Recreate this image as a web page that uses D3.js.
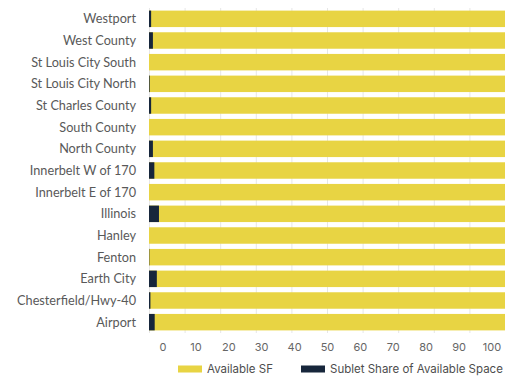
<!DOCTYPE html>
<html>
<head>
<meta charset="utf-8">
<script src="https://cdn.jsdelivr.net/npm/d3@7"></script>
<style>
  body { margin: 0; background: #fff; }
  svg { display: block; }
</style>
</head>
<body>
<svg width="516" height="377"></svg>
<script>
// data
var regions = ["Westport", "West County", "St Louis City South", "St Louis City North",
  "St Charles County", "South County", "North County", "Innerbelt W of 170",
  "Innerbelt E of 170", "Illinois", "Hanley", "Fenton", "Earth City",
  "Chesterfield/Hwy-40", "Airport"];
var availableSF = [100, 100, 100, 100, 100, 100, 100, 100, 100, 100, 100, 100, 100, 100, 100];
var subletShare = [0.6, 1.1, 0, 0.2, 0.6, 0, 1.1, 1.5, 0, 2.8, 0, 0.1, 2.2, 0.4, 1.6];
var tickValues = [0, 10, 20, 30, 40, 50, 60, 70, 80, 90, 100];
var seriesNames = ["Available SF", "Sublet Share of Available Space"];

var svg = d3.select("svg");
var yellow = "#e8d443", navy = "#17263b";

var x = d3.scaleLinear().domain([0, 100]).range([149, 505]);
// tick labels sit slightly shifted from the gridlines in the original
var xLabel = d3.scaleLinear().domain([0, 100]).range([163, 492]);
var y = d3.scaleBand().domain(regions).range([8, 333])
  .paddingInner(0.24).paddingOuter(0.12);

// gridlines
svg.append("g")
  .selectAll("line")
  .data(tickValues.slice(0, 10))
  .enter()
  .append("line")
    .attr("x1", d => x(d) + 0.5).attr("x2", d => x(d) + 0.5)
    .attr("y1", 8).attr("y2", 333)
    .attr("stroke", "#e6e6e6")
    .attr("stroke-width", 1);

// yellow bars
svg.append("g")
  .selectAll("rect")
  .data(regions)
  .enter()
  .append("rect")
    .attr("x", x(0))
    .attr("y", d => y(d))
    .attr("width", (d, i) => x(availableSF[i]) - x(0))
    .attr("height", y.bandwidth())
    .attr("fill", yellow);

// sublet bars
svg.append("g")
  .selectAll("rect")
  .data(regions)
  .enter()
  .append("rect")
    .attr("x", x(0))
    .attr("y", d => y(d))
    .attr("width", (d, i) => x(subletShare[i]) - x(0))
    .attr("height", y.bandwidth())
    .attr("fill", navy);

// category labels
svg.append("g")
  .selectAll("text")
  .data(regions)
  .enter()
  .append("text")
    .attr("x", 136)
    .attr("y", d => y(d) + y.bandwidth() / 2)
    .attr("dy", "0.35em")
    .attr("text-anchor", "end")
    .attr("font-family", "Lato, 'Open Sans', sans-serif")
    .attr("font-size", 12.7)
    .attr("fill", "#595959")
    .text(d => d);

// x tick labels
svg.append("g")
  .selectAll("text")
  .data(tickValues)
  .enter()
  .append("text")
    .attr("x", d => xLabel(d))
    .attr("y", 347)
    .attr("dy", "0.35em")
    .attr("text-anchor", "middle")
    .attr("font-family", "Inter, Lato, sans-serif")
    .attr("font-size", 11)
    .attr("fill", "#666")
    .text(d => d);

// legend
var legendX = [178, 301];
var legend = svg.append("g")
  .selectAll("g")
  .data(seriesNames)
  .enter()
  .append("g")
    .attr("transform", (d, i) => "translate(" + legendX[i] + ",369)");

legend.append("rect")
  .attr("x", 0).attr("y", -3.5)
  .attr("width", 24).attr("height", 7)
  .attr("fill", (d, i) => i == 0 ? yellow : navy);

legend.append("text")
  .attr("x", 29)
  .attr("dy", "0.35em")
  .attr("font-family", "Inter, Lato, sans-serif")
  .attr("font-size", 11.5)
  .attr("fill", "#4d4d4d")
  .text(d => d);
</script>
</body>
</html>
